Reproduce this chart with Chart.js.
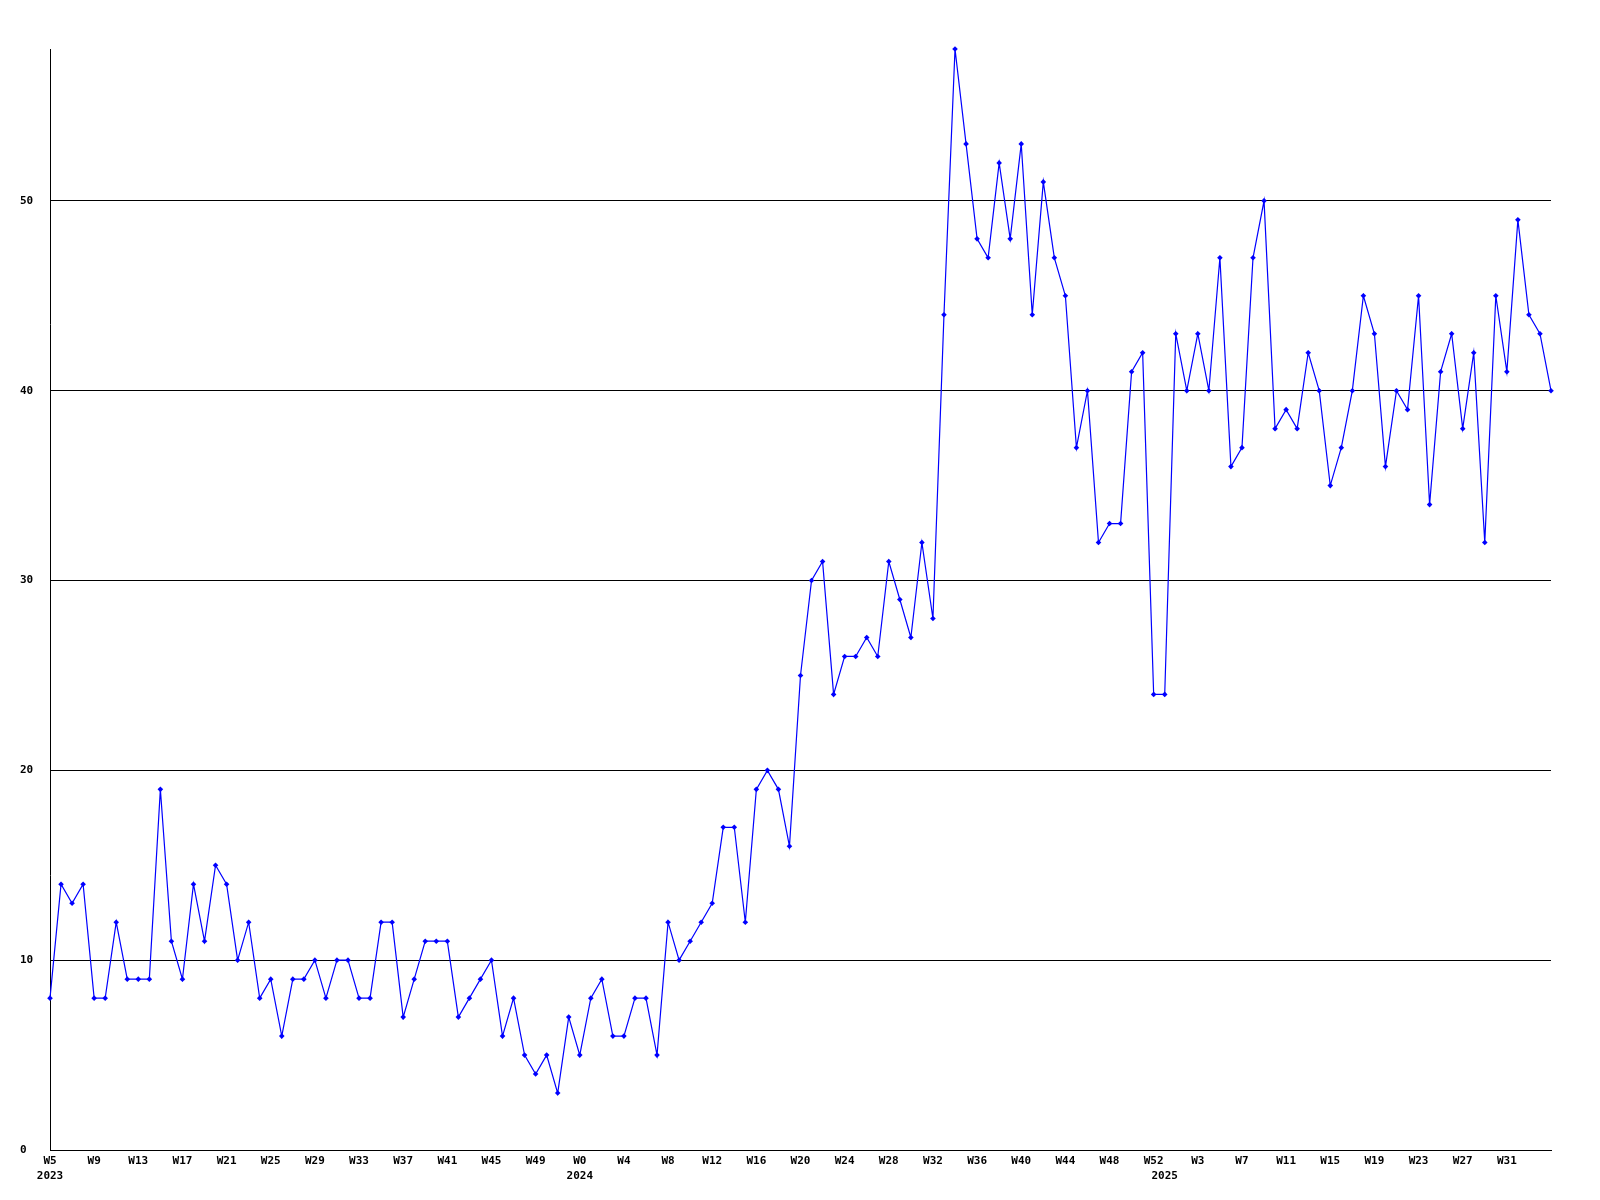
<!DOCTYPE html>
<html>
<head>
<meta charset="utf-8">
<script src="https://cdn.jsdelivr.net/npm/chart.js@4/dist/chart.umd.min.js"></script>
<style>
body{margin:0;background:#fff}
#wrap{width:1600px;height:1200px}
</style>
</head>
<body>
<div id="wrap"><canvas id="weeklyChart"></canvas></div>
<script>

const years = ["2023","2024","2025"]
const firstWeek = [5,0,0]

const values2023 = [8,14,13,14,8,8,12,9,9,9,19,11,9,14,11,15,14,10,12,8,9,6,9,9,10,8,10,10,8,8,12,12,7,9,11,11,11,7,8,9,10,6,8,5,4,5,3,7]
const values2024 = [5,8,9,6,6,8,8,5,12,10,11,12,13,17,17,12,19,20,19,16,25,30,31,24,26,26,27,26,31,29,27,32,28,44,58,53,48,47,52,48,53,44,51,47,45,37,40,32,33,33,41,42,24]
const values2025 = [24,43,40,43,40,47,36,37,47,50,38,39,38,42,40,35,37,40,45,43,36,40,39,45,34,41,43,38,42,32,45,41,49,44,43,40]

const yearValues = [values2023,values2024,values2025]

let weekLabels = []
let yearAt = {}
let values = []

yearValues.forEach((vals,y)=>{
yearAt[weekLabels.length] = years[y]
vals.forEach((v,i)=>{
weekLabels.push("W"+(firstWeek[y]+i))
values.push(v)
})
})

const tickFont = {family:"DejaVu Sans Mono",size:11,weight:"bold",lineHeight:1.36}

const ctx = document.getElementById("weeklyChart")

new Chart(ctx,{
type:'line',

data:{
labels: weekLabels,
datasets:[{
data: values,
borderColor:"#0000ff",
backgroundColor:"#0000ff",
borderWidth:1.2,
pointStyle:"rectRot",
pointRadius:2.8,
pointBorderWidth:0,
tension:0,
clip:false
}]
},

options:{
responsive:true,
maintainAspectRatio:false,
animation:false,
layout:{padding:{left:20,top:49,right:49,bottom:0}},

plugins:{
legend:{display:false},
tooltip:{enabled:false}
},

scales:{

x:{
grid:{display:false,drawTicks:false},
border:{display:true,color:"#000",width:1},
afterFit: s => { s.height = 50 },
ticks:{
autoSkip:false,
maxRotation:0,
padding:4,
color:"#000",
font:tickFont,
callback:function(value,index){
// no week label on the last point, it would run off the plot
const wk = (index % 4 === 0 && index < values.length - 1) ? weekLabels[index] : ""
if(yearAt[index]) return [wk,yearAt[index]]
return wk
}
}
},

y:{
min:0,
max:Math.max(...values),
afterFit: s => { s.width = 30 },
afterBuildTicks: s => { s.ticks = s.ticks.filter(t => t.value % 10 === 0) },
grid:{color:"#000",lineWidth:1,drawTicks:false},
border:{display:true,color:"#000",width:1},
ticks:{
stepSize:10,
crossAlign:"far",
padding:0,
color:"#000",
font:tickFont
}
}

}

}
})

</script>
</body>
</html>
